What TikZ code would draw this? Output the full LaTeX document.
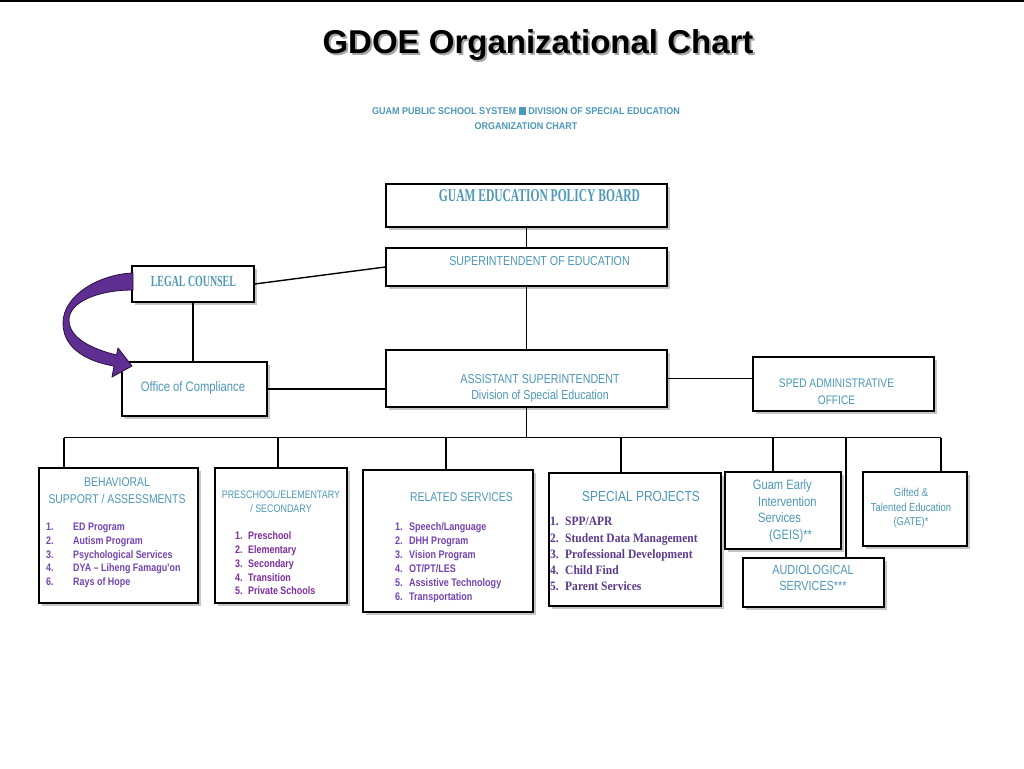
\documentclass[tikz,border=0pt]{standalone}
\usepackage{fontspec}
\setmainfont{Liberation Sans}
\newfontfamily\nsans[FakeStretch=0.82]{Liberation Sans}
\newfontfamily\ssans[FakeStretch=0.92]{Liberation Sans}
\newfontfamily\gserif[FakeStretch=0.64]{Liberation Serif}
\newfontfamily\nserif[FakeStretch=0.9]{Liberation Serif}
\usetikzlibrary{shadows}
\definecolor{tealtx}{HTML}{4C98B8}
\definecolor{violettx}{HTML}{7444B0}
\definecolor{plumtx}{HTML}{7E2E9E}
\definecolor{darkpurp}{HTML}{5C3A8C}
\definecolor{arrowfill}{HTML}{5E2E91}
\definecolor{arrowline}{HTML}{2A1040}
\begin{document}
\begin{tikzpicture}[x=1pt,y=-1pt,
  box/.style={draw=black,line width=1.4pt,fill=white,inner sep=0pt,
    drop shadow={shadow xshift=3pt,shadow yshift=-3pt,fill=black!45}},
  conn/.style={line width=1.4pt,black},
  txt/.style={inner sep=0pt,anchor=base,text=tealtx},
  lst/.style={inner sep=0pt,anchor=base west}]
\fill[white] (0,0) rectangle (1024,768);
\useasboundingbox (0,0) rectangle (1024,768);
\draw[line width=2.5pt] (0,1.2) -- (1024,1.2);

% title
\node[txt,text=black!35,font=\bfseries\fontsize{33}{38}\selectfont] (titleshadow) at (540,56) {GDOE Organizational Chart};
\node[txt,text=black,font=\bfseries\fontsize{33}{38}\selectfont] (title) at (538,53.8) {GDOE Organizational Chart};
\node[txt,align=center,font=\ssans\bfseries\fontsize{9.8}{15}\selectfont] (subtitle) at (526,129.5)
  {GUAM PUBLIC SCHOOL SYSTEM \textcolor{tealtx}{\rule[-0.5pt]{7pt}{8pt}} DIVISION OF SPECIAL EDUCATION\\ORGANIZATION CHART};

% boxes
\node[box,minimum width=281pt,minimum height=43pt] (gepb) at (526.5,205.5) {};
\node[box,minimum width=281pt,minimum height=38pt] (supt) at (526.5,267) {};
\node[box,minimum width=122pt,minimum height=36pt] (legal) at (193,284) {};
\node[box,minimum width=145pt,minimum height=54pt] (comp) at (194.5,389) {};
\node[box,minimum width=281pt,minimum height=57pt] (asst) at (526.5,378.5) {};
\node[box,minimum width=181pt,minimum height=54pt] (sped) at (843.5,384) {};
\node[box,minimum width=159pt,minimum height=135pt] (behav) at (118.5,535.5) {};
\node[box,minimum width=132pt,minimum height=135pt] (pre) at (281,535.5) {};
\node[box,minimum width=170pt,minimum height=142pt] (rel) at (448,541) {};
\node[box,minimum width=172pt,minimum height=133pt] (sp) at (635,539.5) {};
\node[box,minimum width=116pt,minimum height=77pt] (geis) at (783,510.5) {};
\node[box,minimum width=104pt,minimum height=74pt] (gate) at (915,509) {};
\node[box,minimum width=141pt,minimum height=49pt] (aud) at (813.5,582.5) {};

% connectors
\draw[conn] (gepb) -- (supt);
\draw[conn] (supt) -- (asst);
\draw[conn] (legal.east) -- (supt.west);
\draw[conn] (legal.south) -- (legal.south |- comp.north);
\draw[conn] (comp.east) -- (comp.east -| asst.west);
\draw[conn] (asst.east) -- (asst.east -| sped.west);
\coordinate (busL) at (64,437.5);
\coordinate (busR) at (941,437.5);
\draw[conn] (busL) -- (busR);
\draw[conn] (asst.south) -- (asst.south |- busL);
\coordinate (d1) at (64,437.5);
\coordinate (d2) at (278,437.5);
\coordinate (d3) at (446,437.5);
\coordinate (d4) at (621,437.5);
\coordinate (d5) at (773,437.5);
\coordinate (d6) at (846,437.5);
\coordinate (d7) at (941,437.5);
\draw[conn] (d1) -- (d1 |- behav.north);
\draw[conn] (d2) -- (d2 |- pre.north);
\draw[conn] (d3) -- (d3 |- rel.north);
\draw[conn] (d4) -- (d4 |- sp.north);
\draw[conn] (d5) -- (d5 |- geis.north);
\draw[conn] (d6) -- (d6 |- aud.north);
\draw[conn] (d7) -- (d7 |- gate.north);

% curved block arrow
\filldraw[fill=arrowfill,draw=arrowline,line width=0.8pt,line join=round]
  (133,273) .. controls (100,274) and (63,295) .. (63,323)
  .. controls (63,350) and (90,362) .. (114,366)
  -- (112,377) -- (132,366) -- (118,348) -- (116.5,355)
  .. controls (92,349) and (69,338) .. (69,320)
  .. controls (69,302) and (98,290) .. (133,290) -- cycle;

% box texts
\node[txt,font=\gserif\bfseries\fontsize{18}{20}\selectfont] (gepbt) at (539.5,201) {GUAM EDUCATION POLICY BOARD};
\node[txt,font=\nsans\fontsize{13}{16}\selectfont] (suptt) at (539.5,265.4) {SUPERINTENDENT OF EDUCATION};
\node[txt,font=\gserif\bfseries\fontsize{15.5}{18}\selectfont] (legalt) at (193.4,286.8) {LEGAL COUNSEL};
\node[txt,font=\nsans\fontsize{13.7}{16}\selectfont] (compt) at (193,391.6) {Office of Compliance};
\node[txt,align=center,font=\nsans\fontsize{13}{16}\selectfont] (asstt) at (540,399.7) {ASSISTANT SUPERINTENDENT\\Division of Special Education};
\node[txt,align=center,font=\nsans\fontsize{12.4}{16.5}\selectfont] (spedt) at (836.5,404.2) {SPED ADMINISTRATIVE\\OFFICE};

\node[txt,align=center,font=\nsans\fontsize{12.7}{17.3}\selectfont] (behavt) at (117,503.5) {BEHAVIORAL\\SUPPORT / ASSESSMENTS};
\node[lst,text=violettx,font=\nsans\bfseries\fontsize{10.9}{13.75}\selectfont] (behavl) at (46,530.6)
  {\begin{tabular}[t]{@{}p{27pt}@{}l@{}}1.&ED Program\\2.&Autism Program\\3.&Psychological Services\\4.&DYA – Liheng Famagu’on\\6.&Rays of Hope\end{tabular}};

\node[txt,align=center,font=\nsans\fontsize{10.9}{14}\selectfont] (pret) at (281,512.9) {PRESCHOOL/ELEMENTARY\\/ SECONDARY};
\node[lst,text=plumtx,font=\nsans\bfseries\fontsize{10.9}{13.75}\selectfont] (prel) at (235,539.9)
  {\begin{tabular}[t]{@{}p{13pt}@{}l@{}}1.&Preschool\\2.&Elementary\\3.&Secondary\\4.&Transition\\5.&Private Schools\end{tabular}};

\node[txt,font=\nsans\fontsize{12.7}{16}\selectfont] (relt) at (461.5,501.5) {RELATED SERVICES};
\node[lst,text=violettx,font=\nsans\bfseries\fontsize{11}{14}\selectfont] (rell) at (395,530.9)
  {\begin{tabular}[t]{@{}p{14pt}@{}l@{}}1.&Speech/Language\\2.&DHH Program\\3.&Vision Program\\4.&OT/PT/LES\\5.&Assistive Technology\\6.&Transportation\end{tabular}};

\node[txt,font=\nsans\fontsize{14.6}{18}\selectfont] (spt) at (641,501.2) {SPECIAL PROJECTS};
\node[lst,text=darkpurp,font=\nserif\bfseries\fontsize{12.8}{16.1}\selectfont] (spl) at (550,525.9)
  {\begin{tabular}[t]{@{}p{15pt}@{}l@{}}1.&SPP/APR\\2.&Student Data Management\\3.&Professional Development\\4.&Child Find\\5.&Parent Services\end{tabular}};

\node[lst,text=tealtx,align=left,font=\nsans\fontsize{13.6}{16.4}\selectfont] (geist) at (752.7,539.1)
  {Guam Early\\\hspace*{5.3pt}Intervention\\\hspace*{5.3pt}Services\\\hspace*{16.3pt}(GEIS)**};
\node[txt,align=center,font=\nsans\fontsize{11.5}{14.5}\selectfont] (gatet) at (911,525.8) {Gifted \&\\Talented Education\\(GATE)*};
\node[txt,align=center,font=\nsans\fontsize{13.2}{16}\selectfont] (audt) at (813,590.7) {AUDIOLOGICAL\\SERVICES***};
\end{tikzpicture}
\end{document}
